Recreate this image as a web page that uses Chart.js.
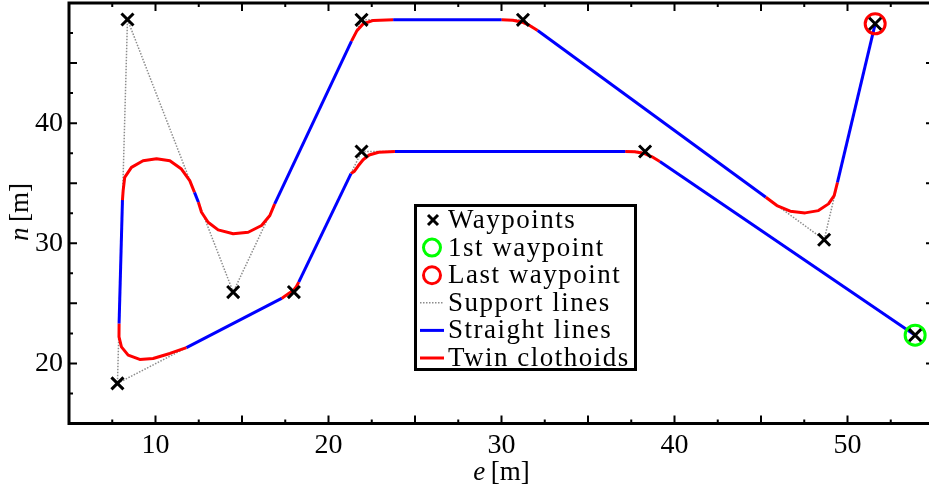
<!DOCTYPE html>
<html>
<head>
<meta charset="utf-8">
<script src="https://cdn.jsdelivr.net/npm/chart.js@4.4.0/dist/chart.umd.min.js"></script>
<style>
  html, body { margin: 0; padding: 0; overflow: hidden; background: #fff; }
  #wrap { position: absolute; left: 0; top: 0; width: 936px; height: 490px; }
  .serif { font-family: "Liberation Serif", serif; color: #000; }
  #xtitle { position: absolute; left: 0; width: 1003px; top: 456px; text-align: center; font-size: 27px; line-height: 30px; }
  #ytitle { position: absolute; left: 19px; top: 212px; font-size: 27px; line-height: 30px; white-space: nowrap;
            transform: translate(-50%, -50%) rotate(-90deg); }
  #legend { position: absolute; left: 414px; top: 204px; width: 223px; height: 167px; border: 3px solid #000;
            background: #fff; box-sizing: border-box; }
  #legend svg { position: absolute; left: 0; top: 0; }
  #legend .items { position: absolute; left: 31px; top: -1px; font-size: 27px; line-height: 27.6px; letter-spacing: 1.5px; white-space: nowrap; }
</style>
</head>
<body>
<div id="wrap">
  <canvas id="chart" width="936" height="490"></canvas>
  <div id="xtitle" class="serif"><i>e</i>&#8201;[m]</div>
  <div id="ytitle" class="serif"><i>n</i>&#8201;[m]</div>
  <div id="legend" class="serif">
    <svg width="217" height="161">
      <g stroke="#000" stroke-width="3">
        <line x1="11" y1="8" x2="21" y2="18"/><line x1="21" y1="8" x2="11" y2="18"/>
      </g>
      <circle cx="15" cy="40.6" r="8.5" fill="none" stroke="#00ff00" stroke-width="3"/>
      <circle cx="15" cy="68.2" r="8.5" fill="none" stroke="#ff0000" stroke-width="3"/>
      <line x1="3" y1="95.8" x2="27" y2="95.8" stroke="#8c8c8c" stroke-width="1.5" stroke-dasharray="1.5 1.5"/>
      <line x1="3" y1="123.4" x2="27" y2="123.4" stroke="#0000ff" stroke-width="3"/>
      <line x1="3" y1="151" x2="27" y2="151" stroke="#ff0000" stroke-width="3"/>
    </svg>
    <div class="items">
      <div>Waypoints</div>
      <div>1st waypoint</div>
      <div>Last waypoint</div>
      <div>Support lines</div>
      <div>Straight lines</div>
      <div>Twin clothoids</div>
    </div>
  </div>
</div>
<script>
// waypoints in route order (first -> last)
const wpE = [53.91, 38.3, 21.91, 18.0, 7.8, 8.38, 14.49, 21.91, 31.24, 48.65, 51.6];
const wpN = [22.35, 37.64, 37.64, 25.94, 18.34, 48.63, 25.94, 48.6, 48.6, 30.29, 48.27];

// planned path; pathKind tells the type of the piece that starts at each point
// L = straight line, C = twin clothoid
const pathE = [53.91, 39.15, 38.7, 38.2, 37.7, 37.15, 23.84, 22.9, 22.35, 22.0, 21.72, 21.5, 21.3,
  18.28, 18.14, 17.98, 17.72, 17.29, 11.79, 10.83, 9.86, 9.09, 8.42, 8.03, 7.89, 7.895,
  8.09, 8.13, 8.22, 8.61, 9.28, 10.06, 10.83, 11.5, 11.98, 12.255,
  12.48, 12.66, 13.04, 13.62, 14.49, 15.36, 16.13, 16.61, 16.89,
  21.33, 21.63, 22.01, 22.59, 23.74, 30.01, 30.65, 31.15, 31.6, 32.09,
  45.28, 45.92, 46.69, 47.55, 48.32, 48.9, 49.23, 49.42, 51.6];
const pathN = [22.35, 36.81, 37.2, 37.5, 37.62, 37.64, 37.64, 37.58, 37.35, 36.95, 36.45, 36.0, 35.8,
  26.77, 26.38, 26.1, 25.85, 25.41, 21.31, 20.83, 20.41, 20.33, 20.69, 21.38, 22.21, 23.32,
  33.6, 34.38, 35.49, 36.32, 36.87, 37.04, 36.87, 36.18, 35.21, 34.24,
  33.41, 32.58, 31.75, 31.12, 30.79, 30.92, 31.48, 32.31, 33.28,
  46.83, 47.66, 48.27, 48.55, 48.6, 48.6, 48.56, 48.42, 48.15, 47.71,
  33.83, 33.14, 32.67, 32.53, 32.72, 33.28, 33.97, 35.07, 48.27];
const pathKind = ['L', 'C', 'C', 'C', 'C', 'L', 'C', 'C', 'C', 'C', 'C', 'C', 'L',
  'C', 'C', 'C', 'C', 'L', 'C', 'C', 'C', 'C', 'C', 'C', 'C', 'L',
  'C', 'C', 'C', 'C', 'C', 'C', 'C', 'C', 'C', 'L',
  'C', 'C', 'C', 'C', 'C', 'C', 'C', 'C', 'L',
  'C', 'C', 'C', 'C', 'L', 'C', 'C', 'C', 'C', 'L',
  'C', 'C', 'C', 'C', 'C', 'C', 'C', 'L', 'L'];

const eTicks = [10, 20, 30, 40, 50];
const nTicks = [20, 30, 40];

const waypoints = wpE.map((e, i) => ({ x: e, y: wpN[i] }));
const path = pathE.map((e, i) => ({ x: e, y: pathN[i] }));
const last = waypoints.length - 1;

const serif = "'Liberation Serif', serif";

// inward ticks on all four sides plus the box
const frame = {
  id: 'frame',
  afterDatasetsDraw(chart) {
    const { ctx, chartArea: a, scales: { x, y } } = chart;
    ctx.save();
    ctx.strokeStyle = '#000';
    ctx.lineWidth = 2;
    ctx.beginPath();
    for (let v = x.min; v <= x.max + 1e-9; v += 2.5) {
      const px = x.getPixelForValue(v);
      const len = v % 5 === 0 ? 8 : 4;
      ctx.moveTo(px, a.bottom); ctx.lineTo(px, a.bottom - len);
      ctx.moveTo(px, a.top); ctx.lineTo(px, a.top + len);
    }
    for (let v = y.min; v <= y.max + 1e-9; v += 2.5) {
      const py = y.getPixelForValue(v);
      const len = v % 5 === 0 ? 8 : 4;
      ctx.moveTo(a.left, py); ctx.lineTo(a.left + len, py);
      ctx.moveTo(a.right, py); ctx.lineTo(a.right - len, py);
    }
    ctx.stroke();
    ctx.lineWidth = 3;
    ctx.strokeRect(a.left, a.top, a.right - a.left, a.bottom - a.top);
    ctx.restore();
  }
};

const noPad = s => { s.paddingTop = 0; s.paddingBottom = 0; s.paddingLeft = 0; s.paddingRight = 0; };

new Chart(document.getElementById('chart').getContext('2d'), {
  type: 'scatter',
  data: {
    datasets: [
      {
        label: 'Waypoints', data: waypoints, showLine: false,
        pointStyle: 'crossRot', pointRadius: 8.5, pointBorderWidth: 3,
        pointBorderColor: '#000', borderColor: '#000'
      },
      {
        label: '1st waypoint', data: [waypoints[0]], showLine: false,
        pointStyle: 'circle', pointRadius: 10, pointBorderWidth: 3,
        pointBorderColor: '#00ff00', pointBackgroundColor: 'rgba(0,0,0,0)'
      },
      {
        label: 'Last waypoint', data: [waypoints[last]], showLine: false,
        pointStyle: 'circle', pointRadius: 10, pointBorderWidth: 3,
        pointBorderColor: '#ff0000', pointBackgroundColor: 'rgba(0,0,0,0)'
      },
      {
        label: 'Path', data: path, showLine: true, pointRadius: 0,
        borderWidth: 3, borderColor: '#0000ff', tension: 0,
        borderCapStyle: 'butt', borderJoinStyle: 'round',
        segment: {
          borderColor: c => pathKind[c.p0DataIndex] === 'C' ? '#ff0000' : '#0000ff'
        }
      },
      {
        label: 'Support lines', data: waypoints, showLine: true, pointRadius: 0,
        borderWidth: 1.5, borderColor: '#8c8c8c', borderDash: [1.5, 1.5]
      }
    ]
  },
  options: {
    responsive: false,
    animation: false,
    events: [],
    layout: { autoPadding: false, padding: { top: 3, right: 2, left: 0, bottom: 0 } },
    plugins: { legend: { display: false }, tooltip: { enabled: false } },
    scales: {
      x: {
        type: 'linear', min: 5, max: 55,
        grid: { display: false, drawTicks: false }, border: { display: false },
        ticks: {
          stepSize: 2.5, autoSkip: false, maxRotation: 0, padding: 5, color: '#000',
          font: { family: serif, size: 28 },
          callback: v => eTicks.includes(v) ? String(v) : null
        },
        afterFit: s => { s.height = 66.5; noPad(s); }
      },
      y: {
        type: 'linear', min: 15, max: 50,
        grid: { display: false, drawTicks: false }, border: { display: false },
        ticks: {
          stepSize: 2.5, autoSkip: false, padding: 6, color: '#000',
          font: { family: serif, size: 28 },
          callback: v => nTicks.includes(v) ? String(v) : null
        },
        afterFit: s => { s.width = 69; noPad(s); }
      }
    }
  },
  plugins: [frame]
});
</script>
</body>
</html>
